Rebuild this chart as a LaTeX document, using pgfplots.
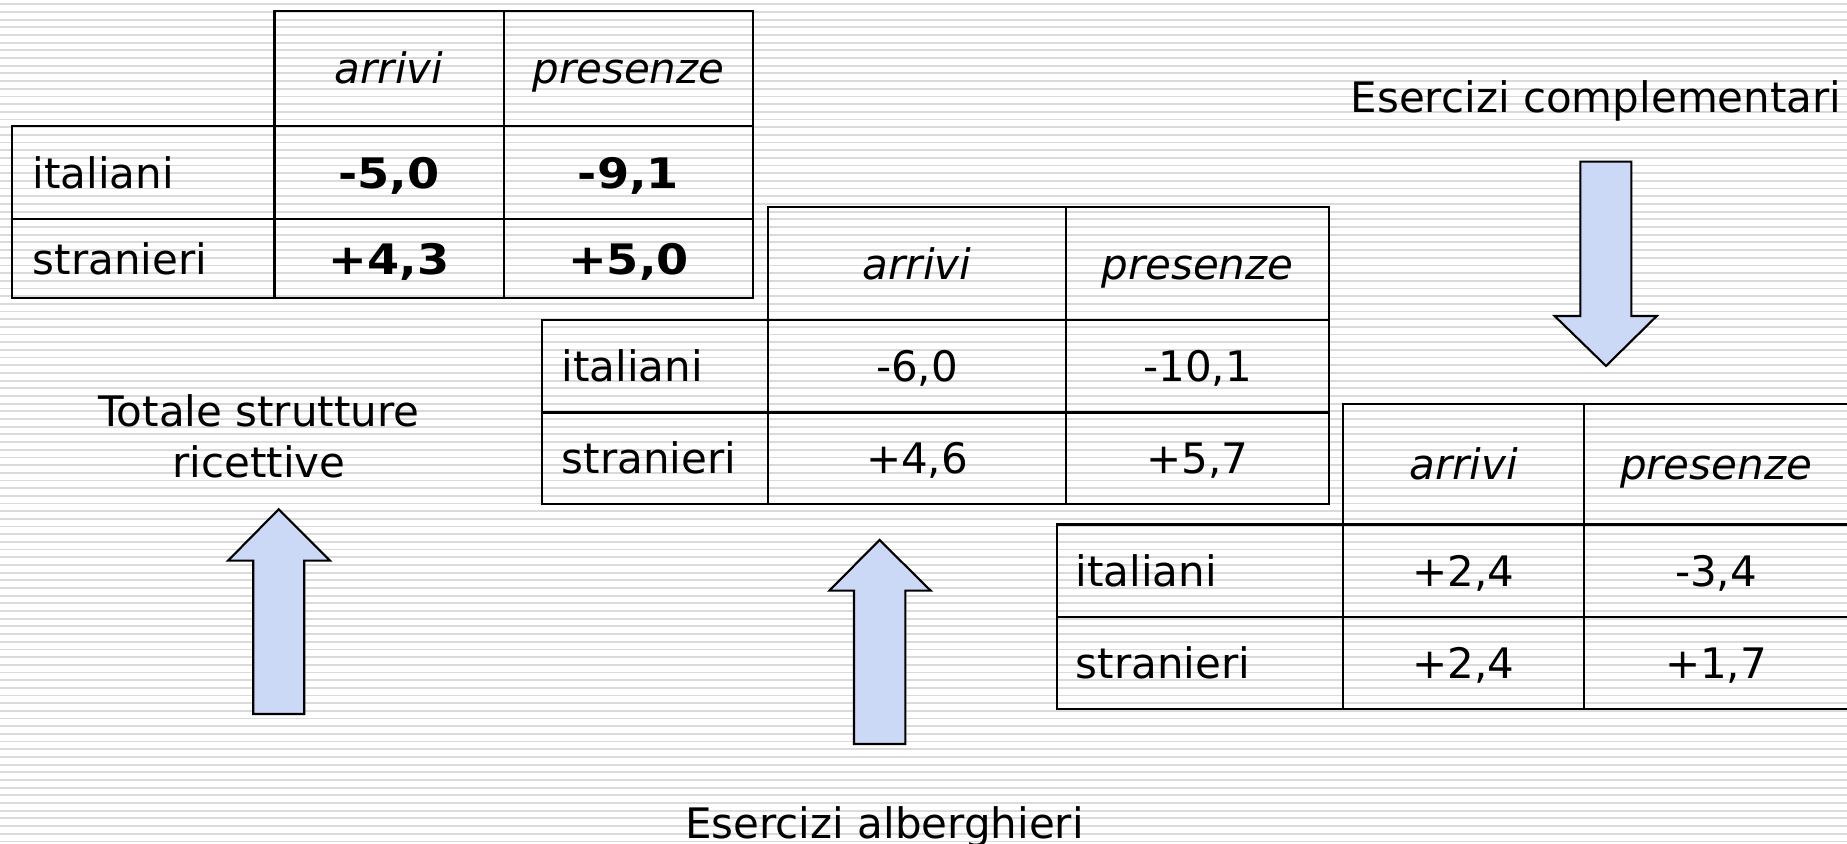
\documentclass[border=0pt]{standalone}
\usepackage{fontspec}
\setmainfont{DejaVu Sans}
\usepackage{pgfplots}
\pgfplotsset{compat=1.18}
\definecolor{stripe}{RGB}{218,218,218}
\definecolor{arrowfill}{RGB}{203,217,246}
\tikzset{
  cell/.style={font=\fontsize{11.95}{14}\selectfont,inner sep=0pt,anchor=base},
  tl/.style={line width=0.6pt,black}}
\begin{document}
\begin{tikzpicture}
\useasboundingbox (0,0) rectangle (18.47cm,8.44cm);
\fill[white] (0,0) rectangle (18.47cm,8.44cm);
\foreach \i in {0,...,109} {
  \fill[stripe] (0,{8.44cm-(4.3+7.68*\i)*0.1mm-0.09mm}) rectangle ++(18.47cm,0.18mm);
}
\begin{axis}[at={(0,0)},anchor=south west,
  width=18.47cm,height=8.44cm,scale only axis,
  xmin=0,xmax=1847,ymin=0,ymax=844,y dir=reverse,
  hide axis,clip=false]

% ---------- Table 1: Totale strutture ricettive ----------
\draw[tl] (274.5,10.6) rectangle (753,298);
\draw[tl] (12,126) rectangle (753,298);
\draw[tl] (12,219) -- (753,219);
\draw[tl] (504,10.6) -- (504,298);
\node[cell] at (389,84) {\itshape arrivi};
\node[cell] at (628.5,84) {\itshape presenze};
\node[cell,anchor=base west] at (32,189) {italiani};
\node[cell,anchor=base west] at (32,275) {stranieri};
\node[cell] at (389,189) {\scalebox{1.1}[1]{\bfseries -5,0}};
\node[cell] at (628.5,189) {\scalebox{1.1}[1]{\bfseries -9,1}};
\node[cell] at (389,275) {\scalebox{1.1}[1]{\bfseries +4,3}};
\node[cell] at (628.5,275) {\scalebox{1.1}[1]{\bfseries +5,0}};

% ---------- Table 2: Esercizi alberghieri ----------
\draw[tl] (768,207) rectangle (1329,504);
\draw[tl] (542,320) rectangle (1329,504);
\draw[tl] (542,412.5) -- (1329,412.5);
\draw[tl] (1066,207) -- (1066,504);
\node[cell] at (917,279.5) {\itshape arrivi};
\node[cell] at (1197.5,279.5) {\itshape presenze};
\node[cell,anchor=base west] at (561,382) {italiani};
\node[cell,anchor=base west] at (561,474) {stranieri};
\node[cell] at (917,382) {-6,0};
\node[cell] at (1197.5,382) {-10,1};
\node[cell] at (917,474) {+4,6};
\node[cell] at (1197.5,474) {+5,7};

% ---------- Table 3: Esercizi complementari ----------
\draw[tl] (1343,404) rectangle (1870,709);
\draw[tl] (1057,524.5) rectangle (1870,709);
\draw[tl] (1057,617) -- (1870,617);
\draw[tl] (1584,404) -- (1584,709);
\node[cell] at (1463.5,480) {\itshape arrivi};
\node[cell] at (1716,480) {\itshape presenze};
\node[cell,anchor=base west] at (1075,587) {italiani};
\node[cell,anchor=base west] at (1075,679) {stranieri};
\node[cell] at (1463.5,587) {+2,4};
\node[cell] at (1716,587) {-3,4};
\node[cell] at (1463.5,679) {+2,4};
\node[cell] at (1716,679) {+1,7};

% ---------- Arrows ----------
\addplot[draw=black,line width=0.6pt,line join=miter,fill=arrowfill]
  coordinates {(278.7,509.3) (330,560.7) (304.3,560.7) (304.3,714) (253.3,714) (253.3,560.7) (228,560.7)} --cycle;
\addplot[draw=black,line width=0.6pt,line join=miter,fill=arrowfill]
  coordinates {(879.5,540) (930.7,590.7) (905.3,590.7) (905.3,744) (854,744) (854,590.7) (829.3,590.7)} --cycle;
\addplot[draw=black,line width=0.6pt,line join=miter,fill=arrowfill]
  coordinates {(1606,366) (1656.8,316) (1631.4,316) (1631.4,161.7) (1580.4,161.7) (1580.4,316) (1554.6,316)} --cycle;

% ---------- Titles ----------
\node[cell,anchor=base west] at (1350,112.7) {Esercizi complementari};
\node[cell] at (259,427) {Totale strutture};
\node[cell] at (259,478) {ricettive};
\node[cell] at (884.5,839) {Esercizi alberghieri};
\end{axis}
\end{tikzpicture}
\end{document}
